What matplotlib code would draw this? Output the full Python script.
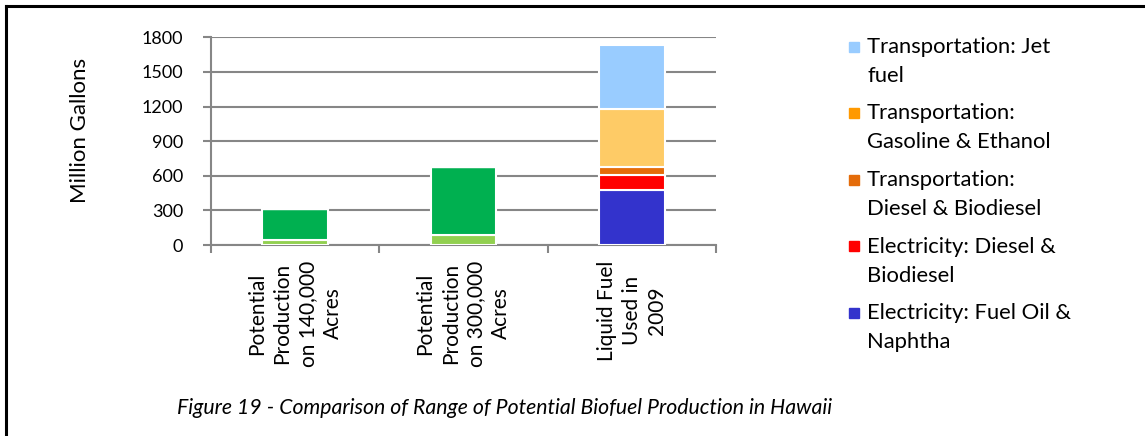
import matplotlib
matplotlib.use("Agg")
import matplotlib.pyplot as plt
from matplotlib.patches import Rectangle
from matplotlib.lines import Line2D
import numpy as np

plt.rcParams['font.family'] = ['Lato', 'DejaVu Sans']

categories = ["Potential\nProduction\non 140,000\nAcres",
              "Potential\nProduction\non 300,000\nAcres",
              "Liquid Fuel\nUsed in\n2009"]

# stacked series, bottom to top
series_names = ["Biofuel (low)", "Biofuel (high)",
                "Electricity: Fuel Oil & Naphtha",
                "Electricity: Diesel & Biodiesel",
                "Transportation: Diesel & Biodiesel",
                "Transportation: Gasoline & Ethanol",
                "Transportation: Jet fuel"]
light_green = [40, 87, 0]
dark_green = [272, 592, 0]
elec_fuel_oil = [0, 0, 477]
elec_diesel = [0, 0, 130]
trans_diesel = [0, 0, 66]
trans_gasoline = [0, 0, 509]
trans_jet = [0, 0, 552]
series_values = [light_green, dark_green, elec_fuel_oil, elec_diesel,
                 trans_diesel, trans_gasoline, trans_jet]
bar_colors = ["#92D050", "#00B050", "#3333CC", "#FF0000", "#E46C0A", "#FECB66", "#99CCFF"]

legend_labels = ["Transportation: Jet\nfuel",
                 "Transportation:\nGasoline & Ethanol",
                 "Transportation:\nDiesel & Biodiesel",
                 "Electricity: Diesel &\nBiodiesel",
                 "Electricity: Fuel Oil &\nNaphtha"]
legend_colors = ["#99CCFF", "#FF9900", "#E46C0A", "#FF0000", "#3333CC"]

yticks = [0, 300, 600, 900, 1200, 1500, 1800]
caption = "Figure 19 - Comparison of Range of Potential Biofuel Production in Hawaii"

W, H = 1145, 436
fig = plt.figure(figsize=(W / 100, H / 100), dpi=100)
ax = fig.add_axes([211 / W, 1 - 245 / H, (716 - 211) / W, (245 - 37.3) / H])

grid_c = "#868686"
x = np.arange(len(categories))
bottom = np.zeros(len(categories))
for vals, col in zip(series_values, bar_colors):
    v = np.array(vals, dtype=float)
    ax.bar(x, v, width=0.39, bottom=bottom, color=col, edgecolor="white",
           linewidth=1.5, zorder=3)
    bottom += v

ax.set_xlim(-0.5, 2.5)
ax.set_ylim(0, 1800)
ax.set_yticks(yticks)
ax.set_yticklabels([str(t) for t in yticks], fontsize=13)
ax.yaxis.grid(True, color=grid_c, linewidth=1.5, zorder=0)
ax.set_axisbelow(True)
ax.set_xticks(x)
ax.set_xticklabels(categories, rotation=90, fontsize=15, ha="center", va="top",
                   multialignment="center", linespacing=1.33)
ax.set_xticks([-0.5, 0.5, 1.5, 2.5], minor=True)
ax.tick_params(axis="x", which="major", length=0, pad=11)
ax.tick_params(axis="x", which="minor", length=6, width=1.5, color=grid_c, direction="out")
ax.tick_params(axis="y", length=6, width=1.5, color=grid_c, direction="out", pad=14)
for s in ["top", "right"]:
    ax.spines[s].set_visible(False)
for s in ["left", "bottom"]:
    ax.spines[s].set_color(grid_c)
    ax.spines[s].set_linewidth(1.5)
ax.set_ylabel("Million Gallons", fontsize=16)
ax.yaxis.set_label_coords((90 - 211) / (716 - 211), (245 - 130) / (245 - 37.3))

# legend (manual, first line aligned with marker)
lx_sq, lx_txt = 849 / W, 867 / W
y0 = 46.7
entry_step = 66.6
line_step = 29
for i, (lab, col) in enumerate(zip(legend_labels, legend_colors)):
    yc = y0 + i * entry_step
    fig.patches.append(Rectangle((lx_sq, 1 - (yc + 5) / H), 10 / W, 10 / H,
                                 transform=fig.transFigure, color=col))
    for j, line in enumerate(lab.split("\n")):
        fig.text(lx_txt, 1 - (yc + j * line_step) / H, line, fontsize=15.8,
                 ha="left", va="center")

fig.text(505 / W, 1 - 408 / H, caption, fontsize=15.3, style="italic",
         ha="center", va="center")

# partial frame
fig.add_artist(Line2D([6 / W, 6 / W], [0, 1 - 6 / H], transform=fig.transFigure,
                      color="black", linewidth=2.2))
fig.add_artist(Line2D([6 / W, 1], [1 - 6 / H, 1 - 6 / H], transform=fig.transFigure,
                      color="black", linewidth=2.2))

fig.savefig("out.png", dpi=100)
